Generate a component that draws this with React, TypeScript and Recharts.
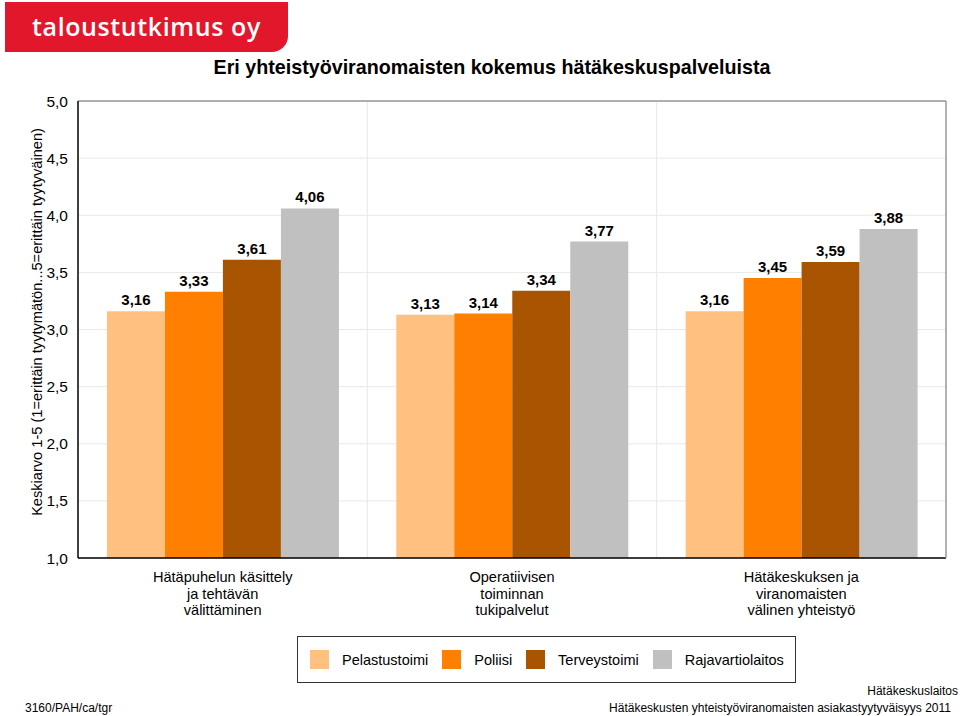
import React from 'react';
import { BarChart, Bar, XAxis, YAxis, CartesianGrid, LabelList, ReferenceLine } from 'recharts';

const categories = [
  'Hätäpuhelun käsittely\nja tehtävän\nvälittäminen',
  'Operatiivisen\ntoiminnan\ntukipalvelut',
  'Hätäkeskuksen ja\nviranomaisten\nvälinen yhteistyö',
];
const seriesNames = ['Pelastustoimi', 'Poliisi', 'Terveystoimi', 'Rajavartiolaitos'];
const seriesColors = ['#FFC080', '#FF8000', '#A85400', '#C0C0C0'];
const pelastustoimi = [3.16, 3.13, 3.16];
const poliisi = [3.33, 3.14, 3.45];
const terveystoimi = [3.61, 3.34, 3.59];
const rajavartiolaitos = [4.06, 3.77, 3.88];
const yTicks = [1, 1.5, 2, 2.5, 3, 3.5, 4, 4.5, 5];

const title = 'Eri yhteistyöviranomaisten kokemus hätäkeskuspalveluista';
const yLabel = 'Keskiarvo 1-5 (1=erittäin tyytymätön...5=erittäin tyytyväinen)';
const logoText = 'taloustutkimus oy';
const footerLeft = '3160/PAH/ca/tgr';
const footerRight1 = 'Hätäkeskuslaitos';
const footerRight2 = 'Hätäkeskusten yhteistyöviranomaisten asiakastyytyväisyys 2011';

const seriesValues = [pelastustoimi, poliisi, terveystoimi, rajavartiolaitos];
const data = categories.map((c, i) => {
  const row: any = { cat: c };
  seriesNames.forEach((s, k) => {
    row[s] = seriesValues[k][i];
  });
  return row;
});

const FONT = '"Liberation Sans", Arial, sans-serif';
const fmt = (v: any) => Number(v).toFixed(2).replace('.', ',');
const fmtTick = (v: any) => Number(v).toFixed(1).replace('.', ',');

const CatTick = (props: any) => {
  const { x, y, payload } = props;
  const lines = String(payload.value).split('\n');
  return (
    <text x={x} y={y} textAnchor="middle" fontSize={14.6} fill="#000" fontFamily={FONT}>
      {lines.map((l, i) => (
        <tspan key={i} x={x} dy={i === 0 ? 16 : 16.5}>
          {l}
        </tspan>
      ))}
    </text>
  );
};

const YLabel = (props: any) => {
  const vb = props.viewBox || {};
  const cx = (vb.x ?? 0) + 37;
  const cy = 322;
  return (
    <text
      x={cx}
      y={cy}
      transform={`rotate(-90, ${cx}, ${cy})`}
      textAnchor="middle"
      dominantBaseline="central"
      fontSize={14.6}
      fill="#000"
      fontFamily={FONT}
    >
      {yLabel}
    </text>
  );
};

const footerStyle: React.CSSProperties = {
  position: 'absolute',
  fontSize: 12,
  lineHeight: '16px',
  fontFamily: '"Liberation Sans Narrow", "Liberation Sans", sans-serif',
  color: '#000',
};

export default function App() {
  return (
    <div
      style={{
        position: 'absolute',
        left: 0,
        top: 0,
        width: 960,
        height: 716,
        overflow: 'hidden',
        background: '#fff',
        fontFamily: FONT,
      }}
    >
      {/* Logo */}
      <div
        style={{
          position: 'absolute',
          left: 5,
          top: 2,
          width: 283,
          height: 50,
          background: '#E3172B',
          borderBottomRightRadius: 16,
          color: '#fff',
          fontFamily: '"Open Sans", sans-serif',
          fontWeight: 600,
          fontSize: 25,
          lineHeight: '48px',
          textAlign: 'center',
          letterSpacing: 0.6,
        }}
      >
        {logoText}
      </div>
      {/* Title */}
      <div
        style={{
          position: 'absolute',
          left: 0,
          top: 56,
          width: 984,
          textAlign: 'center',
          fontWeight: 'bold',
          fontSize: 19.7,
          lineHeight: '22px',
          color: '#000',
        }}
      >
        {title}
      </div>
      <div style={{ position: 'absolute', left: 0, top: 0 }}>
        <BarChart
          width={960}
          height={716}
          data={data}
          margin={{ top: 101, right: 13, bottom: 0, left: 0 }}
          barCategoryGap="10%"
          barGap={0}
        >
          <CartesianGrid
            stroke="#e8e8e8"
            horizontal={true}
            vertical={true}
            verticalCoordinatesGenerator={(p: any) => {
              const off = p.offset || {};
              const l = off.left ?? 78;
              const w = off.width ?? 868;
              return [l + w / 3, l + (2 * w) / 3];
            }}
          />
          <XAxis
            dataKey="cat"
            tick={<CatTick />}
            tickLine={false}
            axisLine={{ stroke: '#000', strokeWidth: 1.5 }}
            interval={0}
            height={158}
          />
          <YAxis
            domain={[1, 5]}
            ticks={yTicks}
            tickFormatter={fmtTick}
            tick={{ fontSize: 15.5, fill: '#000', fontFamily: FONT }}
            tickLine={false}
            tickMargin={4}
            axisLine={{ stroke: '#000', strokeWidth: 1.5 }}
            width={78}
            label={<YLabel />}
            allowDataOverflow
          />
          <YAxis
            yAxisId="r"
            orientation="right"
            width={1}
            tick={false}
            tickLine={false}
            axisLine={{ stroke: '#999', strokeWidth: 1.5 }}
            domain={[1, 5]}
          />
          <ReferenceLine y={5} stroke="#999" strokeWidth={1.5} />
          {seriesNames.map((s, k) => (
            <Bar key={s} dataKey={s} fill={seriesColors[k]} isAnimationActive={false}>
              <LabelList
                dataKey={s}
                position="top"
                offset={6}
                formatter={fmt}
                style={{ fontSize: 15, fontWeight: 'bold', fill: '#000', fontFamily: FONT }}
              />
            </Bar>
          ))}
        </BarChart>
      </div>
      {/* Legend */}
      <div
        style={{
          position: 'absolute',
          left: 297,
          top: 636,
          width: 499,
          height: 47,
          border: '1px solid #333',
          display: 'flex',
          alignItems: 'center',
          paddingLeft: 12,
          boxSizing: 'border-box',
          fontSize: 14.5,
          color: '#000',
        }}
      >
        {seriesNames.map((s, k) => (
          <div key={s} style={{ display: 'flex', alignItems: 'center', marginRight: 14 }}>
            <div style={{ width: 19, height: 19, background: seriesColors[k], marginRight: 13 }} />
            <span>{s}</span>
          </div>
        ))}
      </div>
      {/* Footer */}
      <div style={{ ...footerStyle, right: 2, top: 683 }}>{footerRight1}</div>
      <div style={{ ...footerStyle, right: 9, top: 700 }}>{footerRight2}</div>
      <div style={{ ...footerStyle, left: 25, top: 700 }}>{footerLeft}</div>
    </div>
  );
}
